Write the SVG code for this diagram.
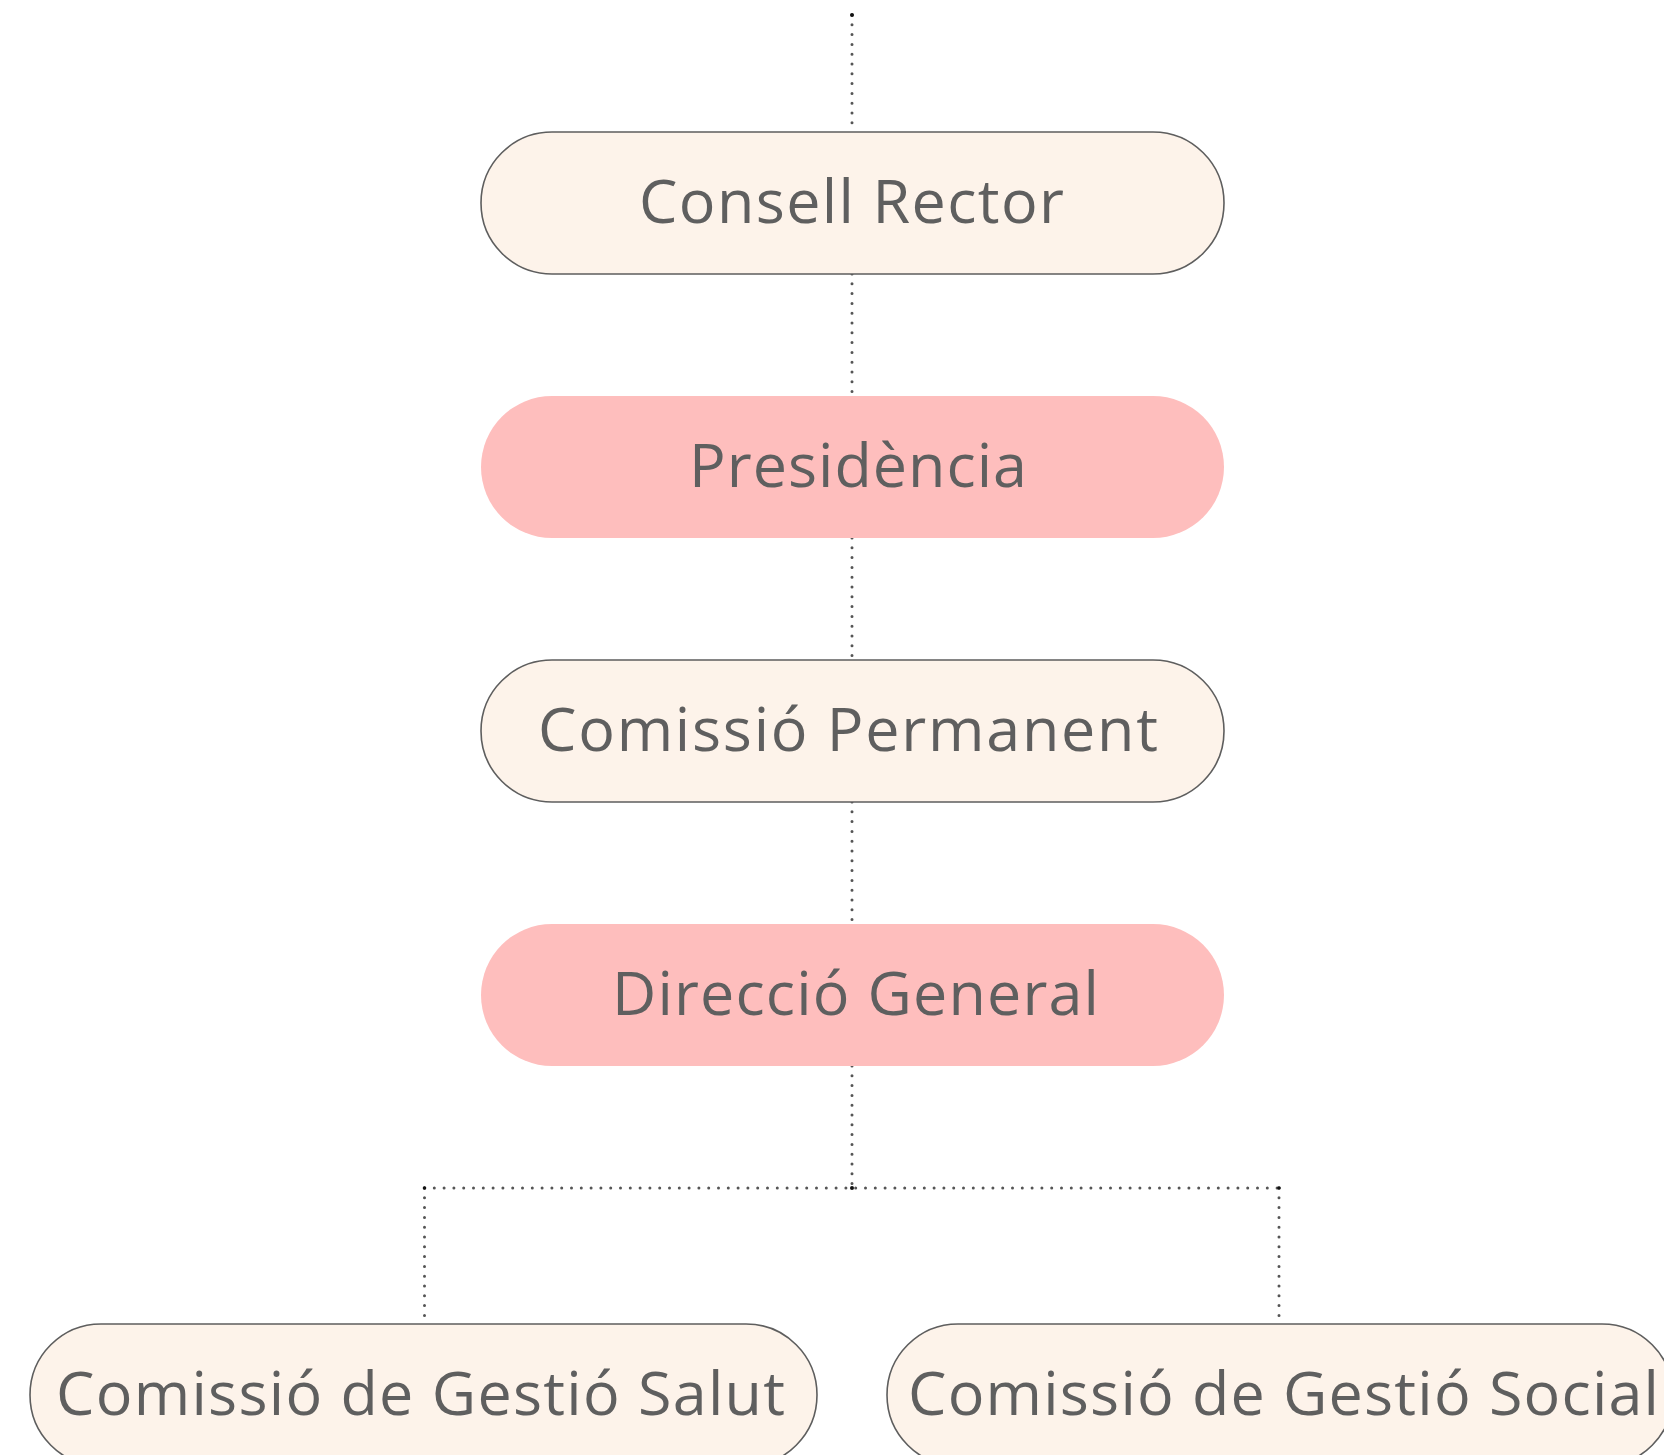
<svg xmlns="http://www.w3.org/2000/svg" width="1664" height="1455" viewBox="0 0 1664 1455">
<style>
.cream{fill:#fdf3ea;stroke:#5e5e5e;stroke-width:1.6}
.pink{fill:#febebd}
.lbl{font-family:"Open Sans","Liberation Sans",sans-serif;font-size:61px;fill:#5f5f5f}
.dot{stroke:#555;stroke-width:3;stroke-linecap:round;stroke-dasharray:0 9.8;fill:none}
</style>
<rect width="1664" height="1455" fill="#fff"/>
<g id="connectors">
<path class="dot" d="M852 15V132"/>
<path class="dot" d="M852 274V396"/>
<path class="dot" d="M852 538V660"/>
<path class="dot" d="M852 802V924"/>
<path class="dot" d="M852 1066V1188"/>
<path class="dot" d="M424.5 1188H1279"/>
<path class="dot" d="M424.5 1188V1320"/>
<path class="dot" d="M1279 1188V1324"/>
<circle cx="852" cy="15" r="2" fill="#111"/>
<circle cx="852" cy="1188" r="2" fill="#111"/>
<circle cx="424.5" cy="1188" r="1.8" fill="#111"/>
<circle cx="1279" cy="1188" r="1.8" fill="#111"/>
</g>
<g id="consell-rector">
<rect class="cream" x="481" y="132" width="743" height="142" rx="71"/>
<text class="lbl" x="639" y="223" textLength="425" lengthAdjust="spacing">Consell Rector</text>
</g>
<g id="presidencia">
<rect class="pink" x="481" y="396" width="743" height="142" rx="71"/>
<text class="lbl" x="689" y="487" textLength="338" lengthAdjust="spacing">Presidència</text>
</g>
<g id="comissio-permanent">
<rect class="cream" x="481" y="660" width="743" height="142" rx="71"/>
<text class="lbl" x="538" y="751" textLength="620" lengthAdjust="spacing">Comissió Permanent</text>
</g>
<g id="direccio-general">
<rect class="pink" x="481" y="924" width="743" height="142" rx="71"/>
<text class="lbl" x="612" y="1015" textLength="487" lengthAdjust="spacing">Direcció General</text>
</g>
<g id="gestio-salut">
<rect class="cream" x="30" y="1324" width="787" height="142" rx="71"/>
<text class="lbl" x="56" y="1415" textLength="729" lengthAdjust="spacing">Comissió de Gestió Salut</text>
</g>
<g id="gestio-social">
<rect class="cream" x="887" y="1324" width="786" height="142" rx="71"/>
<text class="lbl" x="908" y="1415" textLength="751" lengthAdjust="spacing">Comissió de Gestió Social</text>
</g>
</svg>
